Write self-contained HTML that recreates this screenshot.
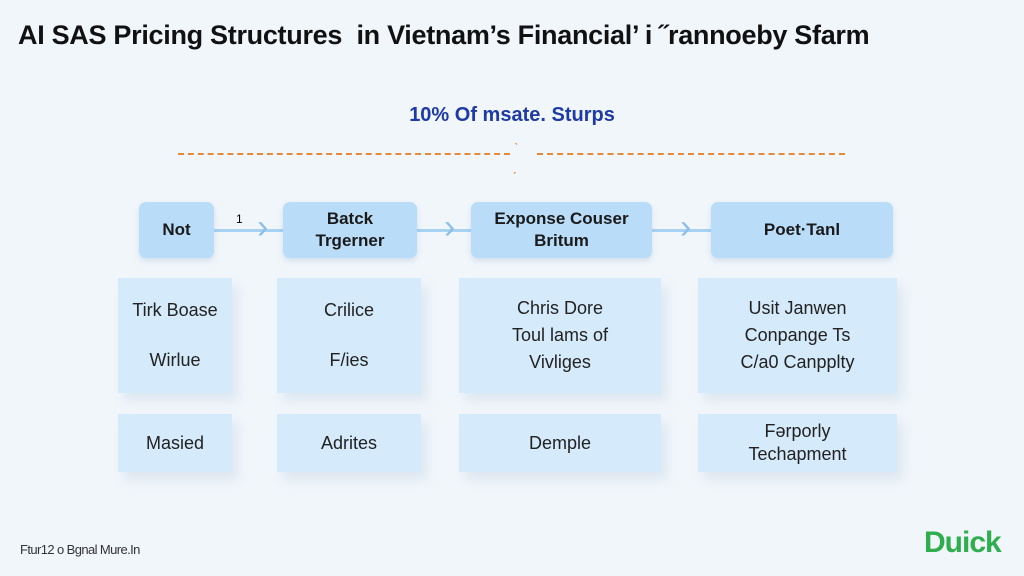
<!DOCTYPE html>
<html><head><meta charset="utf-8"><style>
body{margin:0;width:1024px;height:576px;background:#f1f6fb;font-family:"Liberation Sans",sans-serif;position:relative;overflow:hidden}
.a{position:absolute}
.t{left:18px;top:20px;font-size:27px;font-weight:bold;color:#111;letter-spacing:-0.3px;white-space:nowrap}
.s{left:0;width:1024px;top:104px;text-align:center;font-size:20px;font-weight:bold;color:#1d3aa6}
.h{background:#b9dcf8;border-radius:7px;display:flex;align-items:center;justify-content:center;text-align:center;font-size:17px;font-weight:bold;color:#1a1a1a;line-height:22px;box-shadow:0 3px 6px rgba(120,160,200,.25)}
.c{background:#d5eafa;display:flex;flex-direction:column;justify-content:center;align-items:center;text-align:center;font-size:18px;color:#222;box-shadow:6px 8px 10px rgba(180,200,220,.3)}
.ln{height:3px;background:#a8d2f2;top:229px}
.ar{color:#8cc0ea;font-size:34px;top:208px;font-weight:normal}
</style></head><body>
<div class="a t">AI SAS Pricing Structures &nbsp;in Vietnam’s Financial’ i ˝rannoeby Sfarm</div>
<div class="a s">10% Of msate. Sturps</div>
<div class="a" style="left:178px;top:153px;width:332px;border-top:2px dashed #e58a3c"></div>
<div class="a" style="left:537px;top:153px;width:308px;border-top:2px dashed #e58a3c"></div>
<div class="a" style="left:514px;top:140px;color:#e58a3c;font-size:14px">ˋ</div>
<div class="a" style="left:512px;top:158px;color:#e58a3c;font-size:14px">ˏ</div>
<div class="a ln" style="left:214px;width:69px"></div>
<div class="a ln" style="left:417px;width:54px"></div>
<div class="a ln" style="left:652px;width:59px"></div>
<div class="a" style="left:236px;top:212px;font-size:12px">1</div>
<div class="a ar" style="left:257px">›</div>
<div class="a ar" style="left:444px">›</div>
<div class="a ar" style="left:680px">›</div>
<div class="a h" style="left:139px;top:202px;width:75px;height:56px">Not</div>
<div class="a h" style="left:283px;top:202px;width:134px;height:56px">Batck<br>Trgerner</div>
<div class="a h" style="left:471px;top:202px;width:181px;height:56px">Exponse Couser<br>Britum</div>
<div class="a h" style="left:711px;top:202px;width:182px;height:56px">Poet·Tanl</div>
<div class="a c" style="left:118px;top:278px;width:114px;height:115px;justify-content:space-around;padding:8px 0;box-sizing:border-box"><div>Tirk Boase</div><div>Wirlue</div></div>
<div class="a c" style="left:277px;top:278px;width:144px;height:115px;justify-content:space-around;padding:8px 0;box-sizing:border-box"><div>Crilice</div><div>F/ies</div></div>
<div class="a c" style="left:459px;top:278px;width:202px;height:115px;line-height:27px"><div>Chris Dore</div><div>Toul lams of</div><div>Vivliges</div></div>
<div class="a c" style="left:698px;top:278px;width:199px;height:115px;line-height:27px"><div>Usit Janwen</div><div>Conpange Ts</div><div>C/a0 Canpplty</div></div>
<div class="a c" style="left:118px;top:414px;width:114px;height:58px">Masied</div>
<div class="a c" style="left:277px;top:414px;width:144px;height:58px">Adrites</div>
<div class="a c" style="left:459px;top:414px;width:202px;height:58px">Demple</div>
<div class="a c" style="left:698px;top:414px;width:199px;height:58px;line-height:23px"><div>Fərporly</div><div>Techapment</div></div>
<div class="a" style="left:20px;top:542px;font-size:13px;color:#333;letter-spacing:-0.6px">Ftur12 o Bgnal Mure.In</div>
<div class="a" style="left:924px;top:526px;font-size:30px;font-weight:bold;color:#2fae4e;letter-spacing:-1px">Duick</div>
</body></html>
